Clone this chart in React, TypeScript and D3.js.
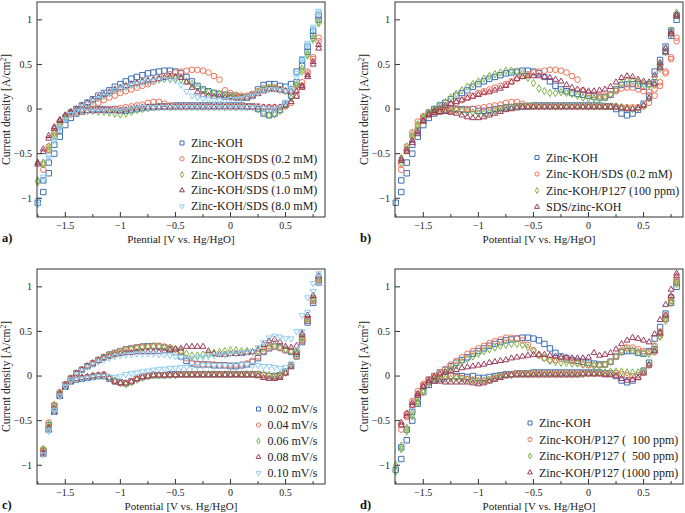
import * as d3 from "d3";

// potential grid (V vs. Hg/HgO), shared by every scan
const potential = [
  -1.75, -1.7, -1.65, -1.6, -1.55, -1.5, -1.45, -1.4, -1.35, -1.3, -1.25, -1.2, -1.15,
  -1.1, -1.05, -1, -0.95, -0.9, -0.85, -0.8, -0.75, -0.7, -0.65, -0.6, -0.55, -0.5,
  -0.45, -0.4, -0.35, -0.3, -0.25, -0.2, -0.15, -0.1, -0.05, 0, 0.05, 0.1, 0.15,
  0.2, 0.25, 0.3, 0.35, 0.4, 0.45, 0.5, 0.55, 0.6, 0.65, 0.7, 0.75, 0.8,
];

type V = number | null;

// Zinc-KOH
const kohUp: V[] = [
  -1.05, -0.8, -0.6, -0.4, -0.24, -0.12, -0.04, 0.0, 0.04, 0.07, 0.11, 0.15, 0.18,
  0.21, 0.25, 0.28, 0.31, 0.34, 0.36, 0.38, 0.4, 0.41, 0.42, 0.43, 0.43, 0.42,
  0.4, 0.36, 0.31, 0.26, 0.22, 0.2, 0.18, 0.17, 0.16, 0.15, 0.14, 0.13, 0.13,
  0.16, 0.22, 0.27, 0.28, 0.28, 0.26, 0.25, 0.28, 0.42, 0.55, 0.7, 0.88, 1.05,
];
const kohDown: V[] = [
  null, -0.93, -0.72, -0.5, -0.31, -0.18, -0.1, -0.05, -0.03, -0.01, 0.0, 0.0, 0.0,
  -0.01, 0.0, -0.02, -0.02, -0.01, 0.0, 0.01, 0.02, 0.02, 0.03, 0.03, 0.03, 0.04,
  0.04, 0.04, 0.04, 0.04, 0.04, 0.04, 0.04, 0.04, 0.04, 0.04, 0.04, 0.04, 0.03,
  0.03, 0.0, -0.05, -0.07, -0.05, -0.01, 0.06, 0.15, 0.3, 0.48, 0.64, 0.82, 1.0,
];
// Zinc-KOH/SDS (0.2 mM)
const sds02Up: V[] = [
  null, -0.62, -0.42, -0.26, -0.14, -0.08, -0.05, -0.02, 0.0, 0.02, 0.05, 0.07, 0.1,
  0.13, 0.15, 0.18, 0.2, 0.22, 0.24, 0.26, 0.28, 0.31, 0.34, 0.37, 0.39, 0.41,
  0.42, 0.43, 0.44, 0.44, 0.43, 0.41, 0.37, 0.33, 0.21, 0.18, 0.16, 0.15, 0.15,
  0.17, 0.2, 0.23, 0.24, 0.24, 0.22, 0.2, 0.19, 0.22, 0.3, 0.42, 0.58, 0.8,
];
const sds02Down: V[] = [
  null, -0.68, -0.46, -0.3, -0.18, -0.1, -0.06, -0.04, -0.03, -0.02, -0.02, -0.01, -0.01,
  0.0, 0.0, 0.01, 0.02, 0.03, 0.04, 0.05, 0.07, 0.08, 0.08, 0.06, 0.04, 0.03,
  0.03, 0.03, 0.03, 0.03, 0.03, 0.03, 0.03, 0.03, 0.03, 0.03, 0.03, 0.03, 0.03,
  0.03, 0.03, 0.02, 0.02, 0.02, 0.02, 0.03, 0.07, 0.15, 0.26, 0.4, 0.56, 0.76,
];
// Zinc-KOH/SDS (0.5 mM)
const sds05Up: V[] = [
  -0.82, -0.62, -0.45, -0.3, -0.18, -0.1, -0.05, -0.01, 0.03, 0.06, 0.09, 0.12, 0.15,
  0.18, 0.21, 0.23, 0.25, 0.27, 0.29, 0.3, 0.31, 0.32, 0.33, 0.34, 0.34, 0.34,
  0.33, 0.31, 0.28, 0.24, 0.21, 0.19, 0.18, 0.17, 0.16, 0.15, 0.14, 0.13, 0.13,
  0.15, 0.19, 0.23, 0.24, 0.24, 0.22, 0.2, 0.19, 0.28, 0.45, 0.62, 0.8, 0.98,
];
const sds05Down: V[] = [
  -0.8, -0.6, -0.42, -0.27, -0.16, -0.09, -0.05, -0.03, -0.02, -0.02, -0.02, -0.03, -0.03,
  -0.04, -0.05, -0.06, -0.05, -0.03, -0.01, 0.0, 0.01, 0.02, 0.02, 0.02, 0.02, 0.02,
  0.02, 0.02, 0.02, 0.02, 0.02, 0.02, 0.02, 0.02, 0.02, 0.02, 0.02, 0.02, 0.02,
  0.02, 0.0, -0.04, -0.07, -0.06, -0.02, 0.04, 0.12, 0.26, 0.42, 0.6, 0.78, 0.96,
];
// Zinc-KOH/SDS (1.0 mM)
const sds10Up: V[] = [
  -0.62, -0.48, -0.33, -0.22, -0.13, -0.07, -0.03, 0.0, 0.04, 0.07, 0.1, 0.13, 0.16,
  0.19, 0.22, 0.24, 0.26, 0.28, 0.29, 0.31, 0.32, 0.33, 0.34, 0.35, 0.36, 0.36,
  0.35, 0.3, 0.24, 0.19, 0.16, 0.15, 0.14, 0.14, 0.13, 0.13, 0.12, 0.12, 0.12,
  0.14, 0.17, 0.2, 0.22, 0.22, 0.21, 0.2, 0.19, 0.2, 0.26, 0.38, 0.53, 0.72,
];
const sds10Down: V[] = [
  -0.6, -0.45, -0.3, -0.2, -0.12, -0.07, -0.04, -0.03, -0.02, -0.02, -0.02, -0.02, -0.02,
  -0.02, -0.02, -0.02, -0.01, 0.0, 0.01, 0.02, 0.02, 0.02, 0.02, 0.02, 0.02, 0.02,
  0.02, 0.02, 0.02, 0.02, 0.02, 0.02, 0.02, 0.02, 0.02, 0.02, 0.02, 0.02, 0.02,
  0.02, 0.02, 0.02, 0.02, 0.02, 0.02, 0.04, 0.08, 0.14, 0.24, 0.36, 0.5, 0.68,
];
// Zinc-KOH/SDS (8.0 mM)
const sds80Up: V[] = [
  -1.07, -0.8, -0.55, -0.36, -0.22, -0.12, -0.06, -0.02, 0.03, 0.06, 0.09, 0.12, 0.15,
  0.18, 0.21, 0.23, 0.25, 0.27, 0.28, 0.3, 0.31, 0.32, 0.33, 0.33, 0.33, 0.32,
  0.27, 0.2, 0.15, 0.13, 0.12, 0.11, 0.1, 0.1, 0.1, 0.11, 0.11, 0.12, 0.13,
  0.15, 0.18, 0.21, 0.22, 0.22, 0.21, 0.2, 0.24, 0.4, 0.57, 0.74, 0.92, 1.1,
];
const sds80Down: V[] = [
  -1.02, -0.76, -0.52, -0.34, -0.2, -0.11, -0.06, -0.03, -0.02, -0.02, -0.02, -0.02, -0.02,
  -0.02, -0.02, -0.02, -0.01, 0.0, 0.01, 0.02, 0.02, 0.02, 0.02, 0.02, 0.02, 0.02,
  0.02, 0.02, 0.02, 0.02, 0.02, 0.02, 0.02, 0.02, 0.02, 0.02, 0.02, 0.02, 0.02,
  0.02, 0.02, 0.01, 0.0, 0.0, 0.02, 0.08, 0.2, 0.36, 0.54, 0.72, 0.9, 1.08,
];
// Zinc-KOH/P127 (100 ppm)
const p100Up: V[] = [
  null, -0.6, -0.46, -0.32, -0.2, -0.1, -0.04, 0.0, 0.04, 0.08, 0.13, 0.17, 0.21,
  0.25, 0.28, 0.31, 0.34, 0.37, 0.39, 0.41, 0.43, 0.43, 0.42, 0.4, 0.35, 0.29,
  0.23, 0.2, 0.18, 0.18, 0.19, 0.18, 0.17, 0.15, 0.13, 0.12, 0.12, 0.12, 0.13,
  0.16, 0.22, 0.29, 0.32, 0.32, 0.3, 0.28, 0.27, 0.34, 0.5, 0.68, 0.88, 1.08,
];
const p100Down: V[] = [
  null, -0.55, -0.42, -0.28, -0.17, -0.09, -0.04, -0.02, -0.01, 0.0, 0.0, -0.01, -0.02,
  -0.03, -0.04, -0.05, -0.05, -0.04, -0.02, 0.0, 0.01, 0.02, 0.03, 0.03, 0.03, 0.03,
  0.03, 0.03, 0.03, 0.03, 0.03, 0.03, 0.03, 0.03, 0.03, 0.03, 0.03, 0.03, 0.03,
  0.03, 0.03, 0.02, 0.01, 0.0, 0.01, 0.04, 0.12, 0.27, 0.45, 0.64, 0.84, 1.05,
];
// SDS/zinc-KOH
const sdsZincUp: V[] = [
  null, -0.58, -0.48, -0.38, -0.28, -0.14, -0.06, -0.02, 0.01, 0.04, 0.06, 0.08, 0.1,
  0.12, 0.14, 0.16, 0.18, 0.19, 0.21, 0.23, 0.26, 0.3, 0.34, 0.36, 0.37, 0.37,
  0.37, 0.36, 0.35, 0.33, 0.31, 0.27, 0.24, 0.22, 0.21, 0.2, 0.2, 0.21, 0.22,
  0.25, 0.3, 0.35, 0.37, 0.36, 0.33, 0.31, 0.3, 0.38, 0.52, 0.68, 0.86, 1.06,
];
const sdsZincDown: V[] = [
  null, -0.56, -0.45, -0.35, -0.25, -0.13, -0.07, -0.04, -0.03, -0.03, -0.04, -0.05, -0.07,
  -0.09, -0.1, -0.1, -0.09, -0.07, -0.05, -0.03, -0.01, 0.0, 0.01, 0.02, 0.02, 0.02,
  0.02, 0.02, 0.02, 0.02, 0.02, 0.02, 0.02, 0.02, 0.02, 0.02, 0.02, 0.02, 0.02,
  0.02, 0.02, 0.01, 0.0, 0.0, 0.01, 0.04, 0.12, 0.28, 0.46, 0.64, 0.84, 1.04,
];
// Zinc-KOH/P127 (500 ppm)
const p500Up: V[] = [
  -1.07, -0.82, -0.62, -0.45, -0.3, -0.18, -0.08, -0.02, 0.02, 0.05, 0.09, 0.12, 0.16,
  0.19, 0.22, 0.25, 0.28, 0.3, 0.32, 0.34, 0.35, 0.36, 0.36, 0.35, 0.32, 0.28,
  0.24, 0.2, 0.17, 0.16, 0.15, 0.15, 0.14, 0.14, 0.13, 0.13, 0.12, 0.12, 0.13,
  0.16, 0.22, 0.27, 0.3, 0.29, 0.27, 0.26, 0.25, 0.33, 0.48, 0.65, 0.85, 1.06,
];
const p500Down: V[] = [
  -1.0, -0.78, -0.58, -0.42, -0.28, -0.16, -0.08, -0.04, -0.03, -0.03, -0.03, -0.02, -0.03,
  -0.04, -0.05, -0.06, -0.05, -0.04, -0.02, 0.0, 0.01, 0.01, 0.02, 0.02, 0.02, 0.02,
  0.02, 0.02, 0.02, 0.02, 0.02, 0.02, 0.02, 0.02, 0.02, 0.03, 0.03, 0.04, 0.04,
  0.05, 0.05, 0.05, 0.04, 0.04, 0.04, 0.06, 0.13, 0.27, 0.44, 0.62, 0.82, 1.03,
];
// Zinc-KOH/P127 (1000 ppm)
const p1000Up: V[] = [
  null, -0.55, -0.45, -0.33, -0.22, -0.12, -0.05, -0.01, 0.02, 0.04, 0.06, 0.07, 0.09,
  0.1, 0.11, 0.12, 0.13, 0.15, 0.16, 0.17, 0.18, 0.2, 0.21, 0.22, 0.23, 0.24,
  0.24, 0.24, 0.23, 0.22, 0.21, 0.21, 0.2, 0.2, 0.2, 0.21, 0.26, 0.23, 0.24,
  0.26, 0.3, 0.36, 0.4, 0.43, 0.42, 0.4, 0.38, 0.47, 0.63, 0.8, 0.97, 1.15,
];
const p1000Down: V[] = [
  null, -0.52, -0.42, -0.3, -0.2, -0.12, -0.07, -0.06, -0.06, -0.07, -0.07, -0.07, -0.07,
  -0.07, -0.08, -0.09, -0.08, -0.06, -0.04, -0.02, 0.0, 0.01, 0.01, 0.01, 0.01, 0.01,
  0.01, 0.01, 0.01, 0.01, 0.01, 0.01, 0.01, 0.01, 0.02, 0.02, 0.02, 0.02, 0.01,
  0.01, 0.0, -0.03, -0.05, -0.04, -0.02, 0.03, 0.12, 0.28, 0.48, 0.68, 0.9, 1.12,
];
// scan rates
const r002Up: V[] = [
  null, -0.84, -0.55, -0.34, -0.2, -0.1, -0.03, 0.03, 0.07, 0.11, 0.14, 0.18, 0.21,
  0.24, 0.26, 0.28, 0.3, 0.31, 0.32, 0.33, 0.335, 0.335, 0.33, 0.32, 0.3, 0.27,
  0.22, 0.17, 0.14, 0.13, 0.13, 0.13, 0.12, 0.12, 0.12, 0.11, 0.11, 0.12, 0.13,
  0.16, 0.2, 0.27, 0.31, 0.33, 0.32, 0.29, 0.27, 0.25, 0.4, 0.62, 0.85, 1.08,
];
const r002Down: V[] = [
  null, -0.86, -0.6, -0.4, -0.22, -0.12, -0.06, -0.04, -0.03, -0.02, -0.01, 0.0, 0.0,
  -0.03, -0.06, -0.07, -0.08, -0.06, -0.03, -0.01, 0.0, 0.01, 0.01, 0.01, 0.02, 0.02,
  0.02, 0.02, 0.02, 0.02, 0.02, 0.02, 0.02, 0.02, 0.02, 0.02, 0.02, 0.02, 0.02,
  0.02, 0.02, 0.01, 0.0, 0.0, 0.01, 0.05, 0.12, 0.22, 0.38, 0.6, 0.82, 1.05,
];
const r004Up: V[] = [
  null, -0.82, -0.52, -0.32, -0.18, -0.09, -0.02, 0.03, 0.07, 0.11, 0.15, 0.18, 0.21,
  0.24, 0.26, 0.28, 0.3, 0.31, 0.32, 0.33, 0.33, 0.34, 0.34, 0.33, 0.32, 0.3,
  0.27, 0.2, 0.15, 0.14, 0.13, 0.13, 0.13, 0.12, 0.12, 0.12, 0.12, 0.13, 0.14,
  0.17, 0.22, 0.28, 0.32, 0.33, 0.31, 0.29, 0.28, 0.28, 0.42, 0.64, 0.87, 1.1,
];
const r004Down: V[] = [
  null, -0.84, -0.58, -0.38, -0.21, -0.11, -0.06, -0.03, -0.02, -0.01, 0.0, 0.01, 0.02,
  -0.02, -0.06, -0.08, -0.08, -0.06, -0.03, -0.01, 0.0, 0.01, 0.01, 0.01, 0.01, 0.01,
  0.02, 0.02, 0.02, 0.02, 0.02, 0.02, 0.02, 0.02, 0.02, 0.02, 0.02, 0.02, 0.02,
  0.02, 0.02, 0.01, 0.0, -0.01, 0.0, 0.04, 0.12, 0.22, 0.4, 0.62, 0.84, 1.07,
];
const r006Up: V[] = [
  null, -0.82, -0.54, -0.33, -0.19, -0.1, -0.03, 0.03, 0.07, 0.11, 0.14, 0.18, 0.21,
  0.23, 0.25, 0.27, 0.29, 0.3, 0.31, 0.32, 0.33, 0.33, 0.33, 0.32, 0.31, 0.3,
  0.28, 0.25, 0.23, 0.23, 0.24, 0.25, 0.26, 0.27, 0.28, 0.29, 0.29, 0.28, 0.28,
  0.27, 0.28, 0.31, 0.34, 0.35, 0.33, 0.3, 0.28, 0.27, 0.42, 0.64, 0.86, 1.08,
];
const r006Down: V[] = [
  null, -0.83, -0.57, -0.37, -0.21, -0.11, -0.06, -0.03, -0.02, -0.01, 0.0, 0.0, 0.0,
  -0.02, -0.05, -0.08, -0.09, -0.07, -0.04, -0.02, 0.0, 0.01, 0.01, 0.01, 0.01, 0.01,
  0.02, 0.02, 0.02, 0.02, 0.02, 0.02, 0.02, 0.02, 0.02, 0.02, 0.02, 0.02, 0.02,
  0.02, 0.02, 0.02, 0.01, 0.0, 0.01, 0.04, 0.12, 0.24, 0.42, 0.64, 0.86, 1.08,
];
const r008Up: V[] = [
  null, -0.86, -0.58, -0.36, -0.2, -0.1, -0.03, 0.03, 0.07, 0.11, 0.14, 0.17, 0.2,
  0.22, 0.24, 0.25, 0.26, 0.26, 0.27, 0.27, 0.27, 0.27, 0.27, 0.28, 0.29, 0.3,
  0.31, 0.33, 0.33, 0.33, 0.33, 0.28, 0.25, 0.24, 0.24, 0.25, 0.25, 0.25, 0.26,
  0.27, 0.3, 0.35, 0.39, 0.41, 0.38, 0.33, 0.32, 0.34, 0.48, 0.68, 0.9, 1.12,
];
const r008Down: V[] = [
  null, -0.88, -0.6, -0.4, -0.23, -0.12, -0.06, -0.03, -0.02, -0.01, 0.0, 0.01, 0.01,
  -0.02, -0.06, -0.08, -0.08, -0.06, -0.03, -0.01, 0.0, 0.01, 0.01, 0.01, 0.01, 0.01,
  0.01, 0.01, 0.01, 0.01, 0.01, 0.01, 0.01, 0.01, 0.01, 0.01, 0.01, 0.01, 0.01,
  0.01, 0.0, -0.02, -0.03, -0.03, -0.02, 0.03, 0.1, 0.26, 0.46, 0.68, 0.9, 1.12,
];
const r010Up: V[] = [
  null, -0.88, -0.6, -0.38, -0.22, -0.11, -0.04, 0.02, 0.06, 0.1, 0.13, 0.16, 0.18,
  0.2, 0.22, 0.23, 0.24, 0.24, 0.25, 0.25, 0.25, 0.25, 0.24, 0.24, 0.23, 0.22,
  0.21, 0.2, 0.2, 0.21, 0.21, 0.22, 0.23, 0.24, 0.24, 0.25, 0.25, 0.26, 0.27,
  0.28, 0.32, 0.38, 0.43, 0.45, 0.44, 0.42, 0.42, 0.5, 0.68, 0.88, 1.04, 1.15,
];
const r010Down: V[] = [
  null, -0.88, -0.62, -0.4, -0.23, -0.12, -0.06, -0.04, -0.03, -0.02, -0.01, 0.0, 0.0,
  -0.01, -0.01, 0.0, 0.02, 0.03, 0.04, 0.05, 0.06, 0.07, 0.08, 0.08, 0.09, 0.09,
  0.1, 0.1, 0.11, 0.11, 0.12, 0.12, 0.12, 0.12, 0.12, 0.13, 0.13, 0.13, 0.13,
  0.12, 0.12, 0.11, 0.11, 0.1, 0.09, 0.1, 0.14, 0.3, 0.5, 0.72, 0.95, 1.12,
];

const xTicks = [-1.5, -1, -0.5, 0, 0.5];
const xMinorTicks = [-1.75, -1.25, -0.75, -0.25, 0.25, 0.75];
const yTicks = [-1, -0.5, 0, 0.5, 1];

type Kind = "square" | "circle" | "diamond" | "triangle" | "triangleDown";
type Series = { label: string; up: V[]; down: V[]; kind: Kind; color: string };

const BLUE = "#3f6fb5";
const RED = "#f36f56";
const GREEN = "#7db545";
const MAROON = "#9a3a5a";
const LIGHT = "#8ecdf0";

const panels: {
  tag: string;
  left: number;
  top: number;
  xLabel: string;
  legend: { x: number; y: number; dy: number };
  series: Series[];
}[] = [
  {
    tag: "a)", left: 37, top: 2, xLabel: "Ptential [V vs. Hg/HgO]",
    legend: { x: 182, y: 143, dy: 15.8 },
    series: [
      { label: "Zinc-KOH", up: kohUp, down: kohDown, kind: "square", color: BLUE },
      { label: "Zinc-KOH/SDS (0.2 mM)", up: sds02Up, down: sds02Down, kind: "circle", color: RED },
      { label: "Zinc-KOH/SDS (0.5 mM)", up: sds05Up, down: sds05Down, kind: "diamond", color: GREEN },
      { label: "Zinc-KOH/SDS (1.0 mM)", up: sds10Up, down: sds10Down, kind: "triangle", color: MAROON },
      { label: "Zinc-KOH/SDS (8.0 mM)", up: sds80Up, down: sds80Down, kind: "triangleDown", color: LIGHT },
    ],
  },
  {
    tag: "b)", left: 395, top: 2, xLabel: "Potential [V vs. Hg/HgO]",
    legend: { x: 537, y: 157.5, dy: 16.5 },
    series: [
      { label: "Zinc-KOH", up: kohUp, down: kohDown, kind: "square", color: BLUE },
      { label: "Zinc-KOH/SDS (0.2 mM)", up: sds02Up, down: sds02Down, kind: "circle", color: RED },
      { label: "Zinc-KOH/P127 (100 ppm)", up: p100Up, down: p100Down, kind: "diamond", color: GREEN },
      { label: "SDS/zinc-KOH", up: sdsZincUp, down: sdsZincDown, kind: "triangle", color: MAROON },
    ],
  },
  {
    tag: "c)", left: 37, top: 269, xLabel: "Potential [V vs. Hg/HgO]",
    legend: { x: 258.5, y: 409, dy: 16 },
    series: [
      { label: "0.02 mV/s", up: r002Up, down: r002Down, kind: "square", color: BLUE },
      { label: "0.04 mV/s", up: r004Up, down: r004Down, kind: "circle", color: RED },
      { label: "0.06 mV/s", up: r006Up, down: r006Down, kind: "diamond", color: GREEN },
      { label: "0.08 mV/s", up: r008Up, down: r008Down, kind: "triangle", color: MAROON },
      { label: "0.10 mV/s", up: r010Up, down: r010Down, kind: "triangleDown", color: LIGHT },
    ],
  },
  {
    tag: "d)", left: 395, top: 269, xLabel: "Potential [V vs. Hg/HgO]",
    legend: { x: 530, y: 423, dy: 16.5 },
    series: [
      { label: "Zinc-KOH", up: kohUp, down: kohDown, kind: "square", color: BLUE },
      { label: "Zinc-KOH/P127 (  100 ppm)", up: p100Up, down: p100Down, kind: "circle", color: RED },
      { label: "Zinc-KOH/P127 (  500 ppm)", up: p500Up, down: p500Down, kind: "diamond", color: GREEN },
      { label: "Zinc-KOH/P127 (1000 ppm)", up: p1000Up, down: p1000Down, kind: "triangle", color: MAROON },
    ],
  },
];

const W = 288;
const H = 215;
const FONT = "'Liberation Serif', 'Times New Roman', serif";

const shapePath: Record<Kind, string> = {
  square: d3.symbol(d3.symbolSquare, 29)()!,
  circle: d3.symbol(d3.symbolCircle, 25)()!,
  diamond: d3.symbol(d3.symbolDiamond, 16)()!,
  triangle: d3.symbol(d3.symbolTriangle, 15)()!,
  triangleDown: d3.symbol(d3.symbolTriangle, 15)()!,
};
const legendPath: Record<Kind, string> = {
  square: d3.symbol(d3.symbolSquare, 16)()!,
  circle: d3.symbol(d3.symbolCircle, 14)()!,
  diamond: d3.symbol(d3.symbolDiamond, 10)()!,
  triangle: d3.symbol(d3.symbolTriangle, 10)()!,
  triangleDown: d3.symbol(d3.symbolTriangle, 10)()!,
};

const fmt = (v: number) => (v < 0 ? "\u2212" + Math.abs(v) : String(v));

function Marker({ kind, x, y, color, legend }: { kind: Kind; x: number; y: number; color: string; legend?: boolean }) {
  const rot = kind === "triangleDown" ? " rotate(180)" : "";
  return (
    <path
      d={(legend ? legendPath : shapePath)[kind]}
      transform={`translate(${x},${y})${rot}`}
      fill="none"
      stroke={color}
      strokeWidth={1}
    />
  );
}

function Panel({ p }: { p: (typeof panels)[number] }) {
  const x = d3.scaleLinear().domain([-1.757, 0.858]).range([p.left, p.left + W]);
  const y = d3.scaleLinear().domain([-1.21, 1.2]).range([p.top + H, p.top]);
  const bottom = p.top + H;
  const midY = p.top + H / 2;

  return (
    <g fontFamily={FONT}>
      {p.series.map((s) => (
        <g key={s.label}>
          {[s.up, s.down].map((branch, bi) =>
            branch.map((v, i) =>
              v === null ? null : (
                <Marker key={`${bi}-${i}`} kind={s.kind} x={x(potential[i])} y={y(v)} color={s.color} />
              )
            )
          )}
        </g>
      ))}

      <rect x={p.left} y={p.top} width={W} height={H} fill="none" stroke="#333" strokeWidth={1} />

      {xTicks.map((t) => (
        <g key={t}>
          <line x1={x(t)} x2={x(t)} y1={bottom} y2={bottom - 5} stroke="#333" />
          <text x={x(t)} y={bottom + 11.5} fontSize={10} textAnchor="middle" fill="#222">
            {fmt(t)}
          </text>
        </g>
      ))}
      {xMinorTicks.map((t) => (
        <line key={t} x1={x(t)} x2={x(t)} y1={bottom} y2={bottom - 3} stroke="#333" />
      ))}
      {yTicks.map((t) => (
        <g key={t}>
          <line x1={p.left} x2={p.left + 5} y1={y(t)} y2={y(t)} stroke="#333" />
          <text x={p.left - 5} y={y(t) + 3.4} fontSize={10} textAnchor="end" fill="#222">
            {fmt(t)}
          </text>
        </g>
      ))}

      <text x={p.left + W / 2} y={bottom + 26} fontSize={11} textAnchor="middle" fill="#222">
        {p.xLabel}
      </text>
      <text
        transform={`translate(${p.left - 27},${midY}) rotate(-90)`}
        fontSize={11.5}
        textAnchor="middle"
        fill="#222"
      >
        Current density [A/cm
        <tspan dy={-4} fontSize={7.5}>2</tspan>
        <tspan dy={4}>]</tspan>
      </text>
      <text x={p.left - 35} y={bottom + 25} fontSize={12.5} fontWeight="bold" fill="#111">
        {p.tag}
      </text>

      {p.series.map((s, i) => (
        <g key={s.label}>
          <Marker kind={s.kind} x={p.legend.x} y={p.legend.y + i * p.legend.dy} color={s.color} legend />
          <text
            x={p.legend.x + 9}
            y={p.legend.y + i * p.legend.dy + 4}
            fontSize={12}
            fill="#222"
            style={{ whiteSpace: "pre" }}
          >
            {s.label}
          </text>
        </g>
      ))}
    </g>
  );
}

export default function App() {
  return (
    <svg
      width={685}
      height={513}
      style={{ position: "absolute", left: 0, top: 0, background: "#fff" }}
    >
      {panels.map((p) => (
        <Panel key={p.tag} p={p} />
      ))}
    </svg>
  );
}
